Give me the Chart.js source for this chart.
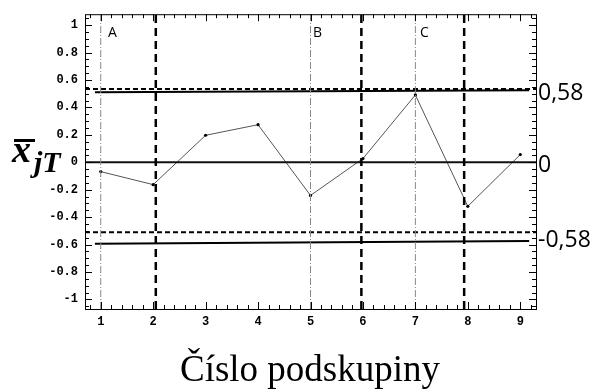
<!DOCTYPE html>
<html>
<head>
<meta charset="utf-8">
<script src="https://cdn.jsdelivr.net/npm/chart.js@4.4.1/dist/chart.umd.min.js"></script>
<style>
  html, body { margin: 0; padding: 0; background: #fff; }
  #wrap { position: relative; width: 597px; height: 390px; }
  canvas { position: absolute; left: 0; top: 0; }
  .lbl { position: absolute; color: #000; white-space: nowrap; }
  .sec { font: 14px "Open Sans", sans-serif; top: 22px; }
  .lim { font: 23px "Open Sans", sans-serif; left: 538px; line-height: 1; }
  .xt { font: 37px "Liberation Serif", serif; left: 0; width: 620px; text-align: center; top: 347px; }
  .ysym { font: bold italic 38px "Liberation Serif", serif; left: 12px; top: 130px; line-height: 1; }
  .ysub { font: bold italic 30px "Liberation Serif", serif; left: 34px; top: 147px; line-height: 1; }
  .bar { position: absolute; left: 14px; top: 139px; width: 21px; height: 2.5px; background: #000; }
</style>
</head>
<body>
<div id="wrap">
  <canvas id="chart" width="597" height="390"></canvas>
  <div class="lbl sec" style="left:108px">A</div>
  <div class="lbl sec" style="left:313px">B</div>
  <div class="lbl sec" style="left:420px">C</div>
  <div class="lbl lim" style="top:80px">0,58</div>
  <div class="lbl lim" style="top:152px">0</div>
  <div class="lbl lim" style="top:227px">-0,58</div>
  <div class="lbl ysym">x</div>
  <div class="bar"></div>
  <div class="lbl ysub">jT</div>
  <div class="lbl xt">Číslo podskupiny</div>
</div>
<script>
// podskupiny a jejich prumery
const subgroups = [1, 2, 3, 4, 5, 6, 7, 8, 9];
const means = [-0.068, -0.163, 0.197, 0.274, -0.242, 0.027, 0.491, -0.321, 0.056];

// osy
const xTicks = [1, 2, 3, 4, 5, 6, 7, 8, 9];
const yTicks = [-1, -0.8, -0.6, -0.4, -0.2, 0, 0.2, 0.4, 0.6, 0.8, 1];
const xRange = [0.7, 9.3];
const yRange = [-1.07, 1.08];

// regulacni meze
const centerLine = 0;
const dashedLimits = [0.534, -0.51];
const solidLimitX = [0.89, 9.17];
const uclSolid = [0.51, 0.525];
const lclSolid = [-0.595, -0.574];

// svisle hranice useku
const sectionX = [1, 5, 7];
const splitX = [2.05, 5.97, 7.93];

function hLine(y0, y1, xs) {
  return [{ x: xs[0], y: y0 }, { x: xs[1], y: y1 }];
}
function vLine(x) {
  return [{ x: x, y: yRange[0] }, { x: x, y: yRange[1] }];
}

const datasets = [];

sectionX.forEach(x => datasets.push({
  data: vLine(x), borderColor: '#888', borderWidth: 1,
  borderDash: [7, 2, 1, 2], pointRadius: 0, showLine: true
}));
splitX.forEach(x => datasets.push({
  data: vLine(x), borderColor: '#000', borderWidth: 2.5,
  borderDash: [8, 5], pointRadius: 0, showLine: true
}));
dashedLimits.forEach(y => datasets.push({
  data: hLine(y, y, xRange), borderColor: '#000', borderWidth: 2,
  borderDash: [5, 3], pointRadius: 0, showLine: true
}));
datasets.push({
  data: hLine(uclSolid[0], uclSolid[1], solidLimitX), borderColor: '#000',
  borderWidth: 2, pointRadius: 0, showLine: true
});
datasets.push({
  data: hLine(lclSolid[0], lclSolid[1], solidLimitX), borderColor: '#000',
  borderWidth: 2, pointRadius: 0, showLine: true
});
datasets.push({
  data: hLine(centerLine, centerLine, xRange), borderColor: '#111',
  borderWidth: 2, pointRadius: 0, showLine: true
});
datasets.push({
  data: subgroups.map((s, i) => ({ x: s, y: means[i] })),
  borderColor: '#555', borderWidth: 1, showLine: true,
  pointRadius: 1.6, pointBackgroundColor: '#000', pointBorderWidth: 0
});

// ramecek a drobne carky dovnitr
const frameTicks = {
  id: 'frameTicks',
  afterDraw(chart) {
    const { ctx, chartArea: a, scales: { x, y } } = chart;
    ctx.save();
    ctx.strokeStyle = '#000';
    ctx.lineWidth = 1;
    ctx.beginPath();
    for (let v = -1.05; v <= 1.051; v += 0.05) {
      const major = Math.abs(Math.round(v * 5) - v * 5) < 1e-6;
      const len = major ? 7 : 4;
      const py = Math.round(y.getPixelForValue(v)) + 0.5;
      ctx.moveTo(a.left, py); ctx.lineTo(a.left + len, py);
      ctx.moveTo(a.right, py); ctx.lineTo(a.right - len, py);
    }
    for (let v = 0.8; v <= 9.21; v += 0.2) {
      const major = Math.abs(Math.round(v) - v) < 1e-6;
      const len = major ? 7 : 4;
      const px = Math.round(x.getPixelForValue(v)) + 0.5;
      ctx.moveTo(px, a.bottom); ctx.lineTo(px, a.bottom - len);
      ctx.moveTo(px, a.top); ctx.lineTo(px, a.top + len);
    }
    ctx.stroke();
    ctx.strokeRect(a.left + 0.5, a.top + 0.5, a.right - a.left, a.bottom - a.top);
    ctx.restore();
  }
};

const tickFont = { family: '"Liberation Mono", "DejaVu Sans Mono", monospace', size: 12, weight: 'bold' };

new Chart(document.getElementById('chart'), {
  type: 'scatter',
  data: { datasets: datasets },
  options: {
    responsive: false,
    animation: false,
    layout: { padding: { top: 9, right: 61, left: 0, bottom: 0 } },
    plugins: { legend: { display: false }, tooltip: { enabled: false } },
    scales: {
      x: {
        type: 'linear', min: xRange[0], max: xRange[1],
        afterBuildTicks: s => { s.ticks = xTicks.map(v => ({ value: v })); },
        afterFit: s => { s.height = 81; },
        grid: { display: false, drawTicks: false },
        border: { display: false },
        ticks: { font: tickFont, color: '#000', padding: 6, maxRotation: 0,
                 callback: v => String(v) }
      },
      y: {
        type: 'linear', min: yRange[0], max: yRange[1],
        afterBuildTicks: s => { s.ticks = yTicks.map(v => ({ value: v })); },
        afterFit: s => { s.width = 85; },
        grid: { display: false, drawTicks: false },
        border: { display: false },
        ticks: { font: tickFont, color: '#000', padding: 7,
                 callback: v => (Math.round(v * 10) / 10).toString() }
      }
    }
  },
  plugins: [frameTicks]
});
</script>
</body>
</html>
